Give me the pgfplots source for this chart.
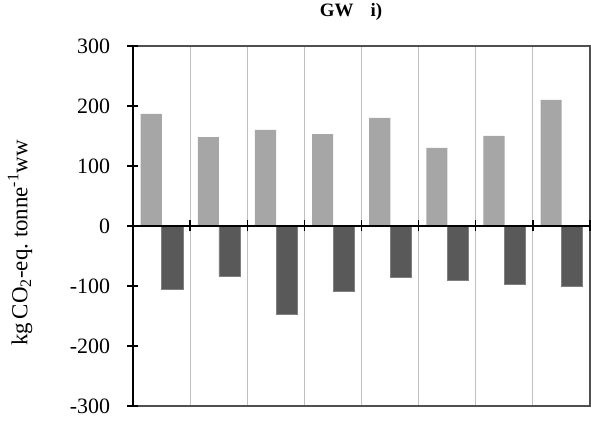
\documentclass[border=0pt]{standalone}
\usepackage{fontspec}
\setmainfont{Liberation Serif}
\usepackage{pgfplots}
\pgfplotsset{compat=1.18}
\definecolor{lightbar}{HTML}{A6A6A6}
\definecolor{darkbar}{HTML}{595959}
\definecolor{darkedge}{HTML}{808080}
\definecolor{gridc}{HTML}{C0C0C0}
\definecolor{framec}{HTML}{505050}
\begin{document}
\begin{tikzpicture}[x=1bp,y=1bp]
\useasboundingbox (-133bp,-23bp) rectangle (458bp,406bp);
\begin{axis}[
  scale only axis, width=457bp, height=360bp,
  at={(0,0)}, anchor=south west,
  xmin=-0.5, xmax=7.5, ymin=-300, ymax=300,
  axis line style={framec, line width=1.2bp},
  xtick={0.5,1.5,...,6.5}, xticklabels={},
  major tick length=0pt,
  ytick=\empty,
  xmajorgrids, grid style={gridc, line width=1.2bp},
  title={\bfseries GW\hspace{0.9em}i)},
  title style={font=\fontsize{19}{22}\selectfont, at={(0.477,1)}, anchor=center, yshift=28bp},
  ylabel={kg\,CO\textsubscript{2}-eq.\ tonne\textsuperscript{-1}ww},
  ylabel style={font=\fontsize{23}{26}\selectfont, at={(0,0.453)}, anchor=center, yshift=113bp},
  ybar, bar width=0.37,
]
\addplot[fill=lightbar, draw=none, bar shift=-0.18] coordinates {
  (0,187) (1,148) (2,160) (3,153) (4,180) (5,130) (6,150) (7,210)};
\addplot[fill=darkbar, draw=darkedge, line width=0.8bp, bar shift=0.19] coordinates {
  (0,-106) (1,-84) (2,-147) (3,-109) (4,-86) (5,-91) (6,-97) (7,-100)};
\end{axis}
\begin{axis}[
  scale only axis, width=457bp, height=360bp,
  at={(0,0)}, anchor=south west,
  xmin=-0.5, xmax=7.5, ymin=-300, ymax=300,
  axis x line=middle, axis y line=left,
  axis line style={black, line width=1.5bp, -},
  xtick={0.5,1.5,...,7.5}, xticklabels={},
  ytick={-300,-200,...,300},
  tick align=center, major tick length=11bp,
  tick style={black, line width=1.3bp},
  /pgf/number format/assume math mode=true,
  yticklabel style={font=\fontsize{22}{25}\selectfont, xshift=-14bp},
]
\addplot[draw=none] coordinates {(0,0)};
\end{axis}
\end{tikzpicture}
\end{document}
